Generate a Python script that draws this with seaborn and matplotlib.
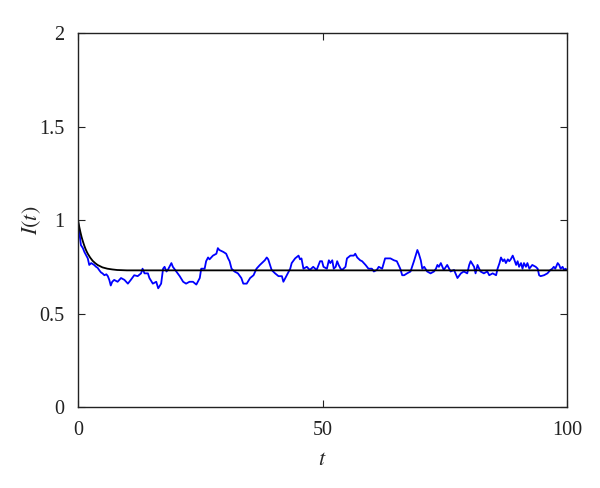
import matplotlib
matplotlib.use("Agg")
import matplotlib.pyplot as plt
import seaborn as sns
import pandas as pd

# Deterministic solution (black)
det_t = [0, 0.25, 0.5, 0.75, 1, 1.25, 1.5, 1.75, 2, 2.5, 3, 3.5, 4, 5, 6, 7, 8, 10, 15, 100]
det_i = [1.0, 0.965, 0.935, 0.908, 0.886, 0.866, 0.848, 0.833, 0.82, 0.799, 0.782, 0.77, 0.76, 0.747, 0.74, 0.736, 0.733, 0.731, 0.731, 0.731]

# Stochastic path (blue)
sto_t = [0, 0.3, 0.6, 1.0, 1.3, 1.7, 2.0, 2.3, 2.7, 3.0, 3.3, 3.7, 4.0, 4.4, 4.7, 5.0, 5.4, 5.8, 6.1, 6.4,
         6.7, 7.0, 7.4, 8.1, 8.8, 9.5, 10.2, 10.8, 11.5, 12.2, 12.9, 13.2, 13.6, 14.3, 14.6, 15.3, 16.0, 16.4,
         17.0, 17.4, 17.7, 18.1, 18.4, 19.1, 19.4, 20.1, 20.8, 21.5, 22.1, 22.8, 23.5, 24.2, 24.9, 25.2,
         25.9, 26.2, 26.6, 26.9, 27.6, 28.3, 28.6, 28.9, 29.7, 30.3, 30.7, 31.0, 31.4, 32.0, 32.7, 33.4,
         33.8, 34.5, 35.2, 35.9, 36.5, 37.2, 37.6, 38.2, 38.6, 38.9, 39.6, 40.3, 41.0, 41.7, 42.0, 42.7,
         43.4, 43.7, 44.4, 45.1, 45.4, 45.7, 46.1, 46.8, 47.4, 48.1, 48.8, 49.5, 49.9, 50.2, 50.9, 51.3,
         51.6, 52.0, 52.3, 52.7, 53.0, 53.3, 53.7, 54.0, 54.7, 55.0, 55.7, 56.4, 56.7, 57.1, 57.7, 58.1,
         58.8, 59.4, 60.1, 60.5, 61.1, 61.5, 62.2, 62.8, 63.2, 63.9, 64.6, 65.2, 65.9, 66.3, 66.7, 67.3,
         68.0, 68.7, 69.4, 69.7, 70.1, 70.4, 70.8, 71.4, 72.1, 72.8, 73.2, 73.5, 73.8, 74.2, 74.8, 75.5,
         76.2, 76.9, 77.6, 78.3, 78.9, 79.6, 80.0, 80.3, 81.0, 81.3, 81.7, 82.3, 83.0, 83.7, 84.1, 84.8,
         85.5, 85.8, 86.2, 86.5, 86.9, 87.2, 87.5, 87.9, 88.2, 88.5, 88.9, 89.2, 89.6, 89.9, 90.2, 90.6,
         90.9, 91.2, 91.6, 91.9, 92.3, 92.9, 93.6, 94.0, 94.3, 94.6, 95.3, 96.0, 96.6, 97.0, 97.3, 97.6,
         98.1, 98.4, 98.7, 99.1, 99.4, 99.7, 100.0]
sto_i = [0.99, 0.93, 0.866, 0.85, 0.83, 0.81, 0.795, 0.76, 0.77, 0.765, 0.76, 0.75, 0.745, 0.73, 0.72, 0.715, 0.705, 0.71, 0.70, 0.68,
         0.65, 0.67, 0.68, 0.67, 0.69, 0.68, 0.66, 0.68, 0.705, 0.70, 0.715, 0.74, 0.715, 0.715, 0.69, 0.66, 0.67, 0.635,
         0.66, 0.74, 0.75, 0.725, 0.735, 0.77, 0.75, 0.725, 0.70, 0.67, 0.66, 0.67, 0.67, 0.655, 0.69, 0.74,
         0.74, 0.78, 0.80, 0.79, 0.81, 0.82, 0.85, 0.84, 0.83, 0.82, 0.795, 0.78, 0.74, 0.725, 0.715, 0.69,
         0.66, 0.66, 0.69, 0.705, 0.74, 0.76, 0.77, 0.785, 0.80, 0.79, 0.733, 0.715, 0.70, 0.70, 0.67, 0.705,
         0.74, 0.77, 0.795, 0.81, 0.79, 0.795, 0.74, 0.75, 0.733, 0.75, 0.733, 0.78, 0.78, 0.75, 0.74, 0.785,
         0.77, 0.785, 0.74, 0.75, 0.78, 0.76, 0.74, 0.733, 0.75, 0.795, 0.81, 0.81, 0.82, 0.80, 0.785, 0.78,
         0.76, 0.74, 0.74, 0.725, 0.733, 0.75, 0.74, 0.795, 0.795, 0.795, 0.785, 0.78, 0.74, 0.705, 0.705, 0.715,
         0.725, 0.78, 0.84, 0.82, 0.785, 0.74, 0.75, 0.725, 0.715, 0.725, 0.74, 0.76, 0.75, 0.77, 0.733, 0.76,
         0.725, 0.733, 0.69, 0.715, 0.725, 0.715, 0.76, 0.78, 0.75, 0.715, 0.76, 0.725, 0.715, 0.725, 0.705, 0.715,
         0.705, 0.74, 0.77, 0.80, 0.78, 0.79, 0.77, 0.79, 0.78, 0.79, 0.81, 0.79, 0.76, 0.78, 0.75, 0.77,
         0.74, 0.77, 0.75, 0.77, 0.74, 0.76, 0.75, 0.74, 0.705, 0.70, 0.705, 0.715, 0.733, 0.74, 0.75, 0.74,
         0.77, 0.76, 0.74, 0.75, 0.733, 0.74, 0.733]

x_ticks = [0, 50, 100]
y_ticks = [0, 0.5, 1, 1.5, 2]
y_tick_labels = ["0", "0.5", "1", "1.5", "2"]

sns.set_theme(style="white")
plt.rcParams["font.family"] = ["Liberation Serif", "DejaVu Serif"]
plt.rcParams["mathtext.fontset"] = "stix"

df_det = pd.DataFrame({"t": det_t, "I": det_i})
df_sto = pd.DataFrame({"t": sto_t, "I": sto_i})

fig = plt.figure(figsize=(6.0, 4.88), dpi=100)
ax = fig.add_axes([0.13, 0.166, 0.815, 0.766])

sns.lineplot(data=df_sto, x="t", y="I", ax=ax, color="#0000ff", linewidth=1.3, estimator=None, sort=False)
sns.lineplot(data=df_det, x="t", y="I", ax=ax, color="black", linewidth=1.3, estimator=None, sort=False)

ax.set_xlim(0, 100)
ax.set_ylim(0, 2)
ax.set_xticks(x_ticks)
ax.set_xticklabels([str(v) for v in x_ticks])
ax.set_yticks(y_ticks)
ax.set_yticklabels(y_tick_labels)
ax.tick_params(direction="in", length=5, width=0.8, colors="#222222", labelsize=14.5,
               top=True, right=True, bottom=True, left=True, pad=10)
for s in ax.spines.values():
    s.set_visible(True)
    s.set_color("#222222")
    s.set_linewidth(1.0)

ax.set_xlabel("$t$", fontsize=16, labelpad=8)
ax.set_ylabel("$I(t)$", fontsize=16)
ax.yaxis.label.set_va("center")
ax.yaxis.set_label_coords(-0.095, 0.5)
ax.grid(False)

fig.savefig("out.png", dpi=100, facecolor="white")
